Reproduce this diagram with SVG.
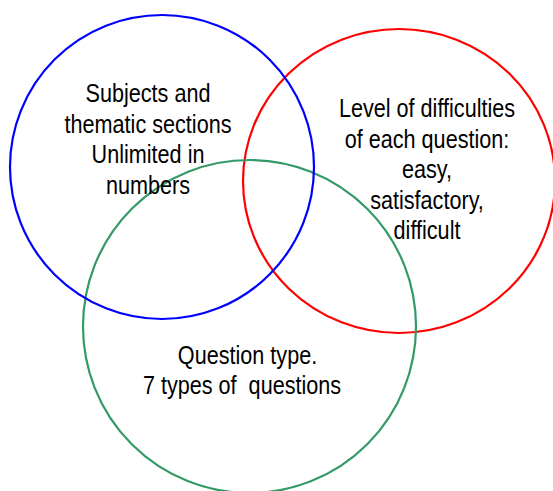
<svg xmlns="http://www.w3.org/2000/svg" width="553" height="491" viewBox="0 0 553 491">
<style>
.c{fill:none;stroke-width:2.2}
.t{font-family:"Liberation Sans",Arial,sans-serif;font-size:25px;fill:#000;text-anchor:middle}
</style>
<rect width="553" height="491" fill="#fff"/>
<g id="red-set"><ellipse class="c" cx="399" cy="181" rx="156" ry="152" stroke="#ff0000"/></g>
<g id="green-set"><circle class="c" cx="249.5" cy="326.5" r="166.5" stroke="#339966"/></g>
<g id="blue-set"><circle class="c" cx="162" cy="167" r="152" stroke="#0000ff"/></g>
<g id="connectors"></g>
<g id="blue-label">
<text class="t" transform="translate(148 102) scale(0.865 1)">Subjects and</text>
<text class="t" transform="translate(148 132.5) scale(0.865 1)">thematic sections</text>
<text class="t" transform="translate(148 163) scale(0.865 1)">Unlimited in</text>
<text class="t" transform="translate(148 193.5) scale(0.865 1)">numbers</text>
</g>
<g id="red-label">
<text class="t" transform="translate(427 117) scale(0.865 1)">Level of difficulties</text>
<text class="t" transform="translate(427 147.5) scale(0.865 1)">of each question:</text>
<text class="t" transform="translate(427 178) scale(0.865 1)">easy,</text>
<text class="t" transform="translate(427 208.5) scale(0.865 1)">satisfactory,</text>
<text class="t" transform="translate(427 239) scale(0.865 1)">difficult</text>
</g>
<g id="green-label">
<text class="t" transform="translate(247.5 364) scale(0.865 1)">Question type.</text>
<text class="t" transform="translate(242 394) scale(0.865 1)" xml:space="preserve">7 types of  questions</text>
</g>
</svg>
